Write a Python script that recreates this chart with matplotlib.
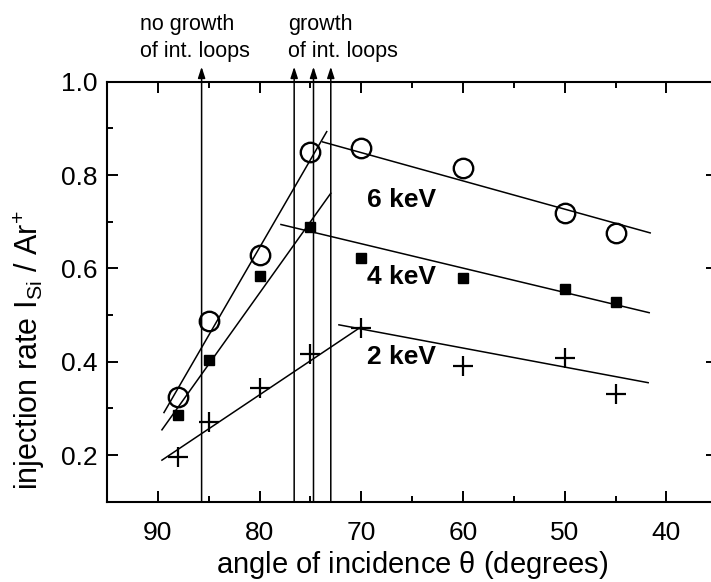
import matplotlib
matplotlib.use("Agg")
import matplotlib.pyplot as plt
from matplotlib.ticker import MultipleLocator

plt.rcParams['font.family'] = ['Liberation Sans', 'DejaVu Sans']
plt.rcParams['mathtext.fontset'] = 'custom'
plt.rcParams['mathtext.rm'] = 'Liberation Sans'
plt.rcParams['mathtext.it'] = 'Liberation Sans:italic'
plt.rcParams['mathtext.default'] = 'regular'

angle = [88, 85, 80, 75, 70, 60, 50, 45]
rate_6kev = [0.324, 0.487, 0.629, 0.849, 0.859, 0.815, 0.718, 0.676]
rate_4kev = [0.286, 0.404, 0.584, 0.689, 0.622, 0.580, 0.556, 0.527]
rate_2kev = [0.195, 0.270, 0.343, 0.416, 0.473, 0.391, 0.407, 0.331]

# fitted straight lines (end points)
fit6_left_x, fit6_left_y = [89.4, 73.4], [0.291, 0.893]
fit6_right_x, fit6_right_y = [73.8, 41.6], [0.871, 0.676]
fit4_left_x, fit4_left_y = [89.6, 73.0], [0.254, 0.761]
fit4_right_x, fit4_right_y = [77.9, 41.7], [0.694, 0.505]
fit2_left_x, fit2_left_y = [89.6, 70.0], [0.189, 0.475]
fit2_right_x, fit2_right_y = [72.2, 41.8], [0.479, 0.355]

# arrows marking growth / no growth of interstitial loops
arrow_angles = [85.7, 76.6, 74.7, 73.0]

fig = plt.figure(figsize=(7.11, 5.82), dpi=100)
ax = fig.add_axes([0.1505, 0.138, 0.8584, 0.7216])

lw = 1.1
for fx, fy in [(fit6_left_x, fit6_left_y), (fit6_right_x, fit6_right_y),
               (fit4_left_x, fit4_left_y), (fit4_right_x, fit4_right_y),
               (fit2_left_x, fit2_left_y), (fit2_right_x, fit2_right_y)]:
    ax.plot(fx, fy, color='black', lw=lw)

ax.plot(angle, rate_6kev, 'o', ms=14, mfc='none', mec='black', mew=1.7)
ax.plot(angle, rate_4kev, 's', ms=7, color='black')
ax.plot(angle, rate_2kev, '+', ms=15, mew=1.6, color='black')

for a in arrow_angles:
    ax.annotate('', xy=(a, 1.032), xytext=(a, 0.1),
                arrowprops=dict(arrowstyle='-|>,head_length=0.55,head_width=0.18',
                                mutation_scale=12, color='black', lw=1.1,
                                shrinkA=0, shrinkB=0),
                annotation_clip=False)

ax.text(69.4, 0.747, '6 keV', fontsize=19, fontweight='bold', va='center', ha='left')
ax.text(69.4, 0.582, '4 keV', fontsize=19, fontweight='bold', va='center', ha='left')
ax.text(69.4, 0.410, '2 keV', fontsize=19, fontweight='bold', va='center', ha='left')

ax.text(91.8, 1.145, 'no growth\nof int. loops', fontsize=15.5, va='top', ha='left',
        linespacing=1.4, clip_on=False)
ax.text(77.2, 1.145, 'growth\nof int. loops', fontsize=15.5, va='top', ha='left',
        linespacing=1.4, clip_on=False)

ax.set_xlim(95, 35)
ax.set_ylim(0.1, 1.0)
ax.xaxis.set_minor_locator(MultipleLocator(5))
ax.yaxis.set_minor_locator(MultipleLocator(0.1))
ax.set_xticks([90, 80, 70, 60, 50, 40])
ax.set_yticks([0.2, 0.4, 0.6, 0.8, 1.0])
ax.set_yticklabels(['0.2', '0.4', '0.6', '0.8', '1.0'])

ax.tick_params(which='both', direction='in', top=True, right=True, width=1.4)
ax.tick_params(which='major', length=8, labelsize=19)
ax.tick_params(which='minor', length=4.5)
ax.tick_params(axis='x', pad=14)
ax.tick_params(axis='y', pad=7)
for s in ax.spines.values():
    s.set_linewidth(1.5)

ax.set_xlabel(r'angle of incidence $\theta$ (degrees)', fontsize=21, labelpad=3)
ax.set_ylabel(r'injection rate I$_{Si}$ / Ar$^{+}$', fontsize=22, labelpad=10, y=0.36)

fig.savefig('out.png', dpi=100)
